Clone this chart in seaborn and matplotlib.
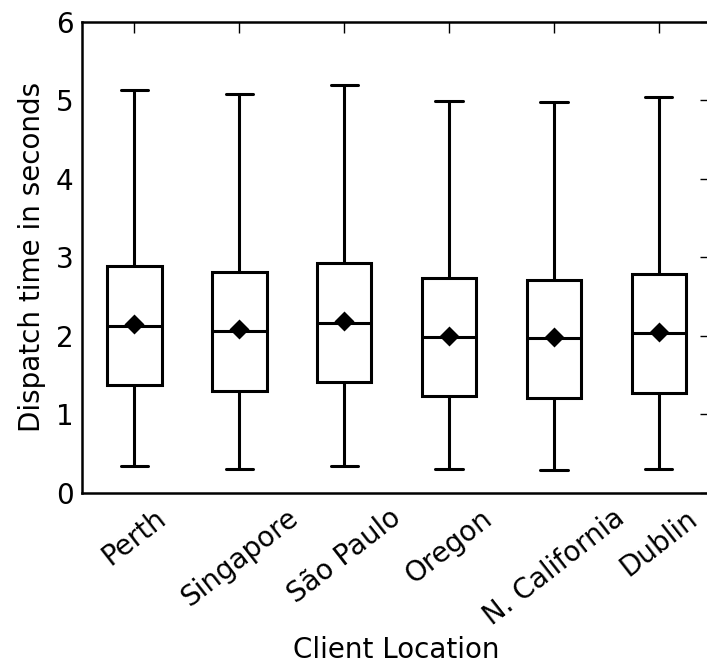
import matplotlib
matplotlib.use("Agg")
import matplotlib.pyplot as plt
import seaborn as sns
import pandas as pd

locations = ["Perth", "Singapore", "São Paulo", "Oregon", "N. California", "Dublin"]
whisker_low = [0.34, 0.31, 0.34, 0.30, 0.29, 0.30]
q1 = [1.38, 1.30, 1.41, 1.24, 1.21, 1.27]
median = [2.12, 2.06, 2.17, 1.99, 1.97, 2.04]
q3 = [2.89, 2.82, 2.93, 2.74, 2.71, 2.79]
whisker_high = [5.13, 5.08, 5.20, 4.99, 4.98, 5.04]
means = [2.15, 2.09, 2.19, 2.00, 1.99, 2.05]
yticks = [0, 1, 2, 3, 4, 5, 6]

rows = []
for i, loc in enumerate(locations):
    for v in (whisker_low[i], q1[i], median[i], q3[i], whisker_high[i]):
        rows.append({"loc": loc, "val": v})
df = pd.DataFrame(rows)
mdf = pd.DataFrame({"loc": locations, "mean": means})

sns.set_style("white")
plt.rcParams["font.family"] = ["DejaVu Sans"]
plt.rcParams["text.color"] = "black"
plt.rcParams["axes.labelcolor"] = "black"

fig = plt.figure(figsize=(7.07, 6.66), dpi=100)
ax = fig.add_axes([0.116, 0.26, 0.89, 0.707])

sns.boxplot(data=df, x="loc", y="val", order=locations, whis=(0, 100),
            width=0.52, color="white", linecolor="black", linewidth=2.2,
            showfliers=False, saturation=1, ax=ax)
sns.pointplot(data=mdf, x="loc", y="mean", order=locations, color="black",
              marker="D", linestyle="none", markersize=8.5, errorbar=None, ax=ax)

ax.set_xlim(-0.5, 5.5)
ax.set_ylim(0, 6)
ax.set_yticks(yticks)
for s in ax.spines.values():
    s.set_visible(True)
    s.set_linewidth(1.8)
    s.set_color("black")
ax.tick_params(direction="in", length=8, width=1, top=True, right=True,
               labelsize=20, colors="black")
ax.tick_params(axis="x", pad=8)
ax.tick_params(axis="y", pad=6)
plt.setp(ax.get_xticklabels(), rotation=38, ha="center")
ax.set_xlabel("Client Location", fontsize=20, labelpad=4)
ax.set_ylabel("Dispatch time in seconds", fontsize=20, labelpad=7)

fig.savefig("out.png", dpi=100)
